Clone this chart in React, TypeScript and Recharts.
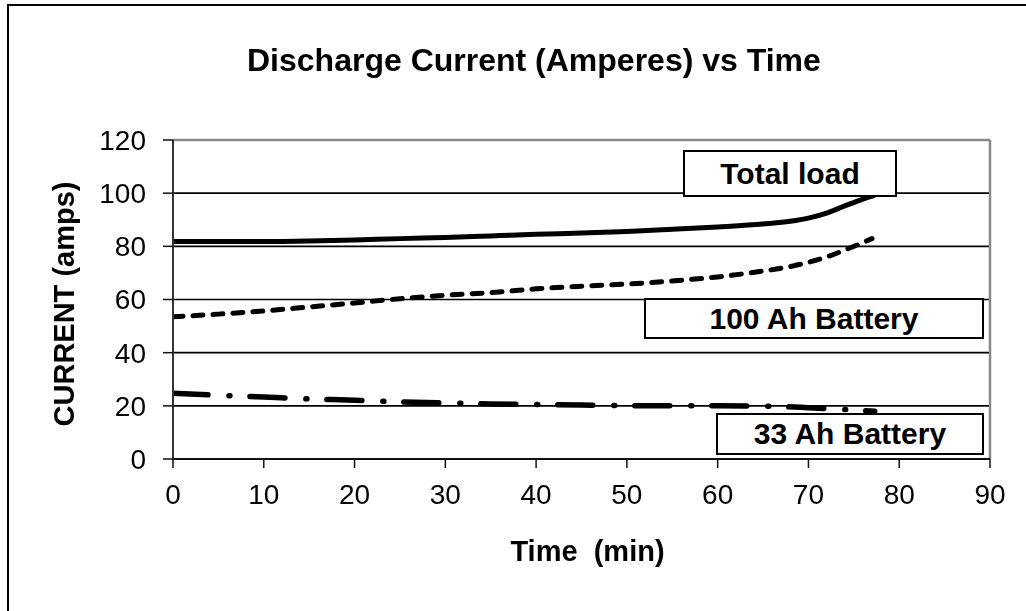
import React from 'react'
import { LineChart, Line, XAxis, YAxis, CartesianGrid, ReferenceLine, Label } from 'recharts'

// readings, minutes / amps
const totalTime = [0, 5, 10, 15, 20, 25, 30, 35, 40, 45, 50, 55, 60, 65, 68, 70, 72, 74, 76, 77.3]
const totalLoad = [81.8, 81.8, 81.8, 82.0, 82.4, 82.9, 83.3, 83.9, 84.5, 85.0, 85.6, 86.4, 87.3, 88.4, 89.4, 90.6, 92.5, 95.2, 97.8, 99.2]

const bat100Time = [0, 5, 10, 15, 20, 25, 30, 35, 40, 45, 50, 55, 60, 65, 68, 70, 72, 74, 76, 77]
const bat100 = [53.5, 54.5, 55.7, 57.2, 58.7, 60.3, 61.6, 62.6, 64.0, 65.0, 65.8, 67.0, 68.5, 70.7, 72.4, 74.0, 76.0, 78.6, 81.4, 82.9]

const bat33Time = [0, 5, 10, 15, 20, 25, 30, 35, 40, 45, 50, 55, 60, 65, 70, 73, 75, 77.3]
const bat33 = [24.7, 24.0, 23.3, 22.6, 22.1, 21.5, 21.1, 20.7, 20.5, 20.3, 20.1, 20.0, 20.0, 19.9, 19.3, 18.8, 18.4, 18.0]

const xTicks = [0, 10, 20, 30, 40, 50, 60, 70, 80, 90]
const yTicks = [0, 20, 40, 60, 80, 100, 120]

const seriesLabels = ['Total load', '100 Ah Battery', '33 Ah Battery']

const toRows = (ts: number[], vs: number[]) => ts.map((t, i) => ({ t, v: vs[i] }))

const FONT = '"Liberation Sans", Arial, sans-serif'

function YTitle(props: any) {
  const vb = props.viewBox || { x: 0, y: 132, width: 165, height: 319 }
  const cx = vb.x + 56
  const cy = vb.y + vb.height / 2 + 4.5
  return (
    <text
      x={cx}
      y={cy}
      transform={`rotate(-90, ${cx}, ${cy})`}
      textAnchor="middle"
      dominantBaseline="central"
      fontSize={29}
      fontWeight="bold"
      fontFamily={FONT}
      fill="#000"
    >
      CURRENT (amps)
    </text>
  )
}

const boxStyle: React.CSSProperties = {
  position: 'absolute',
  boxSizing: 'border-box',
  border: '2px solid #000',
  background: '#fff',
  display: 'flex',
  alignItems: 'center',
  justifyContent: 'center',
  fontFamily: FONT,
  fontWeight: 'bold',
  fontSize: 30,
  color: '#000',
  whiteSpace: 'nowrap',
}

export default function App() {
  return (
    <>
      <div
        style={{
          position: 'fixed',
          left: 7,
          top: 4,
          width: 1017,
          height: 605,
          borderLeft: '2px solid #000',
          borderTop: '2px solid #000',
          pointerEvents: 'none',
        }}
      />
      <div style={{ position: 'relative', width: 1010, height: 595, fontFamily: FONT }}>
        <div
          style={{
            position: 'absolute',
            left: 239,
            top: 36,
            fontSize: 32,
            lineHeight: '32px',
            fontWeight: 'bold',
            whiteSpace: 'nowrap',
            color: '#000',
          }}
        >
          Discharge Current (Amperes) vs Time
        </div>
        <LineChart
          width={1010}
          height={595}
          margin={{ top: 132, right: 28, bottom: 0, left: 0 }}
          style={{ fontFamily: FONT }}
        >
          <CartesianGrid vertical={false} stroke="#000" strokeWidth={1.6} />
          <XAxis
            type="number"
            dataKey="t"
            domain={[0, 90]}
            ticks={xTicks}
            allowDataOverflow
            height={144}
            tickSize={9}
            tickMargin={16}
            axisLine={{ stroke: '#111', strokeWidth: 2 }}
            tickLine={{ stroke: '#111', strokeWidth: 1.5 }}
            tick={{ fontSize: 28, fill: '#000', fontFamily: FONT }}
          >
            <Label
              value={'Time\u00a0\u00a0(min)'}
              position="insideTop"
              offset={81}
              dx={6}
              fontSize={29}
              fontWeight="bold"
              fill="#000"
              fontFamily={FONT}
            />
          </XAxis>
          <YAxis
            type="number"
            domain={[0, 120]}
            ticks={yTicks}
            width={165}
            tickSize={10}
            tickMargin={17}
            axisLine={{ stroke: '#333', strokeWidth: 2 }}
            tickLine={{ stroke: '#111', strokeWidth: 1.5 }}
            tick={{ fontSize: 28, fill: '#000', fontFamily: FONT }}
          >
            <Label content={YTitle} />
          </YAxis>
          <ReferenceLine y={120} stroke="#888" strokeWidth={2.5} />
          <ReferenceLine x={90} stroke="#888" strokeWidth={2.5} />
          <Line
            data={toRows(totalTime, totalLoad)}
            dataKey="v"
            name={seriesLabels[0]}
            type="monotone"
            stroke="#000"
            strokeWidth={5}
            dot={false}
            activeDot={false}
            isAnimationActive={false}
          />
          <Line
            data={toRows(bat100Time, bat100)}
            dataKey="v"
            name={seriesLabels[1]}
            type="monotone"
            stroke="#000"
            strokeWidth={5}
            strokeDasharray="10 10"
            strokeLinecap="round"
            dot={false}
            activeDot={false}
            isAnimationActive={false}
          />
          <Line
            data={toRows(bat33Time, bat33)}
            dataKey="v"
            name={seriesLabels[2]}
            type="monotone"
            stroke="#000"
            strokeWidth={5.5}
            strokeDasharray="35 21 1 20"
            strokeLinecap="round"
            dot={false}
            activeDot={false}
            isAnimationActive={false}
          />
        </LineChart>
        <div style={{ ...boxStyle, left: 675, top: 142, width: 214, height: 47 }}>{seriesLabels[0]}</div>
        <div style={{ ...boxStyle, left: 636, top: 290, width: 340, height: 41 }}>{seriesLabels[1]}</div>
        <div style={{ ...boxStyle, left: 708, top: 405, width: 268, height: 42 }}>{seriesLabels[2]}</div>
      </div>
    </>
  )
}
